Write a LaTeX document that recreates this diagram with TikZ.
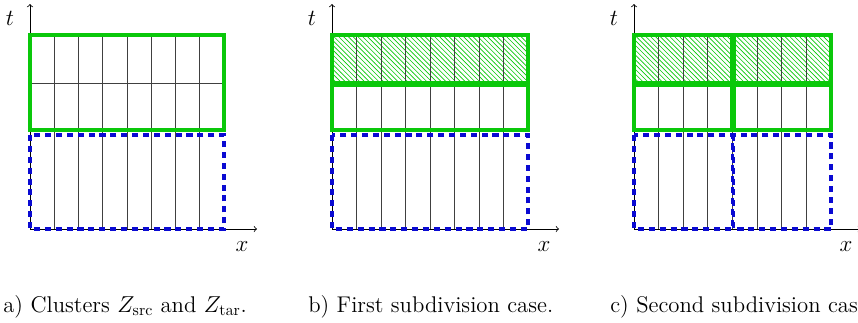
\documentclass[tikz,border=0pt]{standalone}
\usetikzlibrary{patterns}
\definecolor{grn}{RGB}{10,200,10}
\definecolor{blu}{RGB}{10,10,210}
\tikzset{
  axis/.style={->,>=to,line width=0.5pt},
  gridln/.style={line width=0.55pt,black!75},
  grnbox/.style={draw=grn,line width=1.9pt},
  blubox/.style={draw=blu,line width=1.9pt,dash pattern=on 3.8pt off 3pt},
  axlabel/.style={font=\Large},
  capt/.style={anchor=base west,inner sep=0pt,font=\fontsize{14.2}{17}\selectfont}
}
\begin{document}
\begin{tikzpicture}[x=0.625pt,y=-0.625pt]
\clip (0,0) rectangle (858,322);
% ---------- panel a ----------
\begin{scope}[shift={(0,0)}]
  \foreach \k in {1,...,7} {\draw[gridln] (30+24.25*\k,35) -- (30+24.25*\k,229);}
  \draw[gridln] (30,83) -- (224,83);
  \node[axlabel] (ta) at (10,18) {$t$};
  \node[axlabel] (xa) at (242,247) {$x$};
  \coordinate (oa) at (30,229);
  \coordinate (ya) at (30,4);
  \coordinate (xea) at (257,229);
  \draw[axis] (oa) -- (ya);
  \draw[axis] (oa) -- (xea);
  \draw[grnbox] (30,35) rectangle (224,130);
  \draw[blubox] (30,135) rectangle (224,229);
\end{scope}
% ---------- panel b ----------
\begin{scope}[shift={(302,0)}]
  \fill[pattern=north west lines,pattern color=grn] (30,35) rectangle (226,82.5);
  \foreach \k in {1,...,7} {\draw[gridln] (30+24.5*\k,35) -- (30+24.5*\k,229);}
  \node[axlabel] (tb) at (10,18) {$t$};
  \node[axlabel] (xb) at (242,247) {$x$};
  \coordinate (ob) at (30,229);
  \coordinate (yb) at (30,4);
  \coordinate (xeb) at (257,229);
  \draw[axis] (ob) -- (yb);
  \draw[axis] (ob) -- (xeb);
  \draw[grnbox] (30,35) rectangle (226,82.5);
  \draw[grnbox] (30,85.5) rectangle (226,130);
  \draw[blubox] (30,135) rectangle (226,229);
\end{scope}
% ---------- panel c ----------
\begin{scope}[shift={(604,0)}]
  \fill[pattern=north west lines,pattern color=grn] (30,35) rectangle (227,82.5);
  \foreach \k in {1,...,7} {\draw[gridln] (30+24.6*\k,35) -- (30+24.6*\k,229);}
  \node[axlabel] (tc) at (10,18) {$t$};
  \node[axlabel] (xc) at (242,247) {$x$};
  \coordinate (oc) at (30,229);
  \coordinate (yc) at (30,4);
  \coordinate (xec) at (257,229);
  \draw[axis] (oc) -- (yc);
  \draw[axis] (oc) -- (xec);
  \draw[grnbox] (30,35) rectangle (127.5,82.5);
  \draw[grnbox] (130.5,35) rectangle (227,82.5);
  \draw[grnbox] (30,85.5) rectangle (127.5,130);
  \draw[grnbox] (130.5,85.5) rectangle (227,130);
  \draw[blubox] (30,135) rectangle (128.5,229);
  \draw[blubox] (129.5,135) rectangle (227,229);
\end{scope}
% ---------- captions ----------
\node[capt] (ca) at (3,312) {a) Clusters $Z_{\mathrm{src}}$ and $Z_{\mathrm{tar}}$.};
\node[capt] (cb) at (308,312) {b) First subdivision case.};
\node[capt] (cc) at (610,312) {c) Second subdivision case.};
\end{tikzpicture}
\end{document}
